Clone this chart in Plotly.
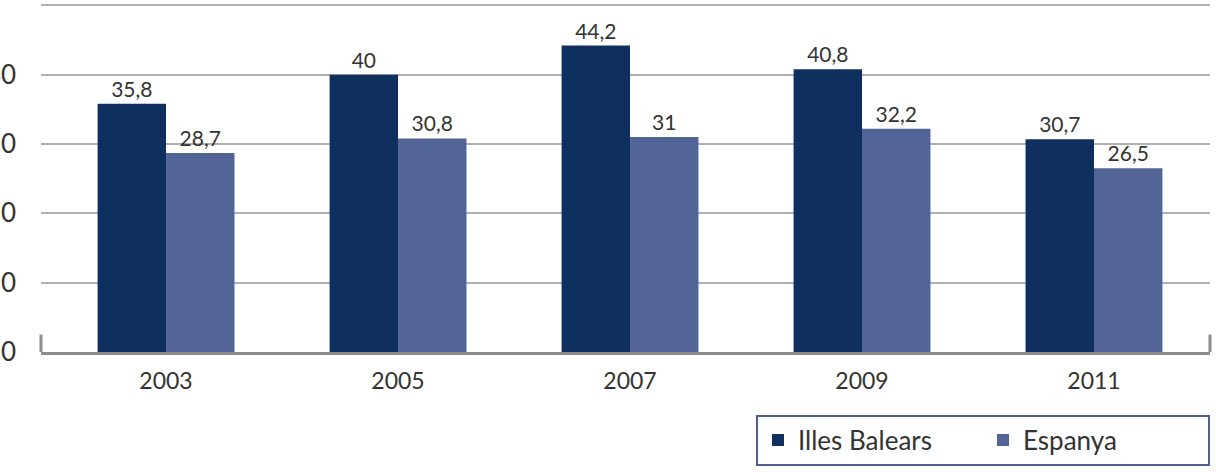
import plotly.graph_objects as go

years = ["2003", "2005", "2007", "2009", "2011"]
illes_balears = [35.8, 40, 44.2, 40.8, 30.7]
espanya = [28.7, 30.8, 31, 32.2, 26.5]
y_ticks = [0, 10, 20, 30, 40, 50]

def fmt(v):
    s = ("%g" % v)
    return s.replace(".", ",")

FONT = "Lato"
TXT = "#333333"

fig = go.Figure()
fig.add_trace(go.Bar(
    x=years, y=illes_balears, name="Illes Balears",
    marker=dict(color="#0f305f", line=dict(width=0)),
    text=[fmt(v) for v in illes_balears], textposition="outside",
    textfont=dict(family=FONT, size=21, color=TXT), cliponaxis=False,
))
fig.add_trace(go.Bar(
    x=years, y=espanya, name="Espanya",
    marker=dict(color="#526497", line=dict(width=0)),
    text=[fmt(v) for v in espanya], textposition="outside",
    textfont=dict(family=FONT, size=21, color=TXT), cliponaxis=False,
))

fig.update_layout(
    width=1216, height=472,
    margin=dict(l=41, r=6, t=4, b=120, autoexpand=False),
    paper_bgcolor="white", plot_bgcolor="white",
    barmode="group", bargap=0.41, bargroupgap=0,
    font=dict(family=FONT, color=TXT),
    showlegend=True,
    legend=dict(
        orientation="h", x=1, xanchor="right", y=-0.18, yanchor="top",
        bordercolor="#4f6190", borderwidth=2, bgcolor="white",
        font=dict(family=FONT, size=26, color=TXT),
        entrywidth=180, itemsizing="constant",
    ),
    xaxis=dict(
        range=[-0.539, 4.5],
        showgrid=False, showline=True, linecolor="#8c8c8c", linewidth=3,
        ticks="", tickfont=dict(family=FONT, size=23, color=TXT),
        ticklabelstandoff=6, automargin=False,
    ),
    yaxis=dict(
        range=[0, 50.2], tickvals=y_ticks, showgrid=True,
        gridcolor="#b0b0b0", gridwidth=2, zeroline=False, showline=False,
        ticks="", tickfont=dict(family=FONT, size=26, color=TXT),
        ticklabelstandoff=24, automargin=False,
    ),
)

# end brackets of the category axis
for xp in (0, 1):
    fig.add_shape(type="line", xref="paper", yref="paper",
                  x0=xp, x1=xp, y0=0, y1=0.05,
                  line=dict(color="#8c8c8c", width=3))

fig.write_html("out.html")
